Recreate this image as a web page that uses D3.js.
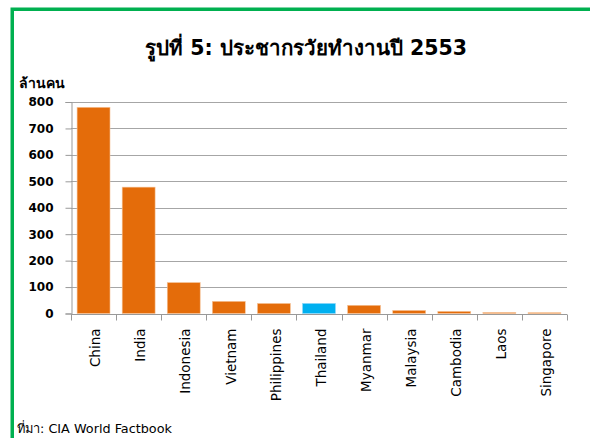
<!DOCTYPE html>
<html>
<head>
<meta charset="utf-8">
<script src="https://cdn.jsdelivr.net/npm/d3@7"></script>
<style>
  body { margin: 0; background: #fff; }
  svg { display: block; }
  .title { font: bold 20.5px Tahoma, "DejaVu Sans", sans-serif; }
  .unit { font: bold 14px Tahoma, "DejaVu Sans", sans-serif; }
  .yaxis text { font: bold 12px "DejaVu Sans", sans-serif; fill: #000; }
  .xaxis text { font: 13.5px "DejaVu Sans", sans-serif; fill: #000; }
  .source { font: 12.8px Tahoma, "DejaVu Sans", sans-serif; }
</style>
</head>
<body>
<svg class="chart"></svg>
<script>
// working-age population 2010 (2553), millions
var countries = ["China", "India", "Indonesia", "Vietnam", "Philippines", "Thailand",
                 "Myanmar", "Malaysia", "Cambodia", "Laos", "Singapore"];
var workforce = [780, 478, 117, 46, 38, 38, 31, 11.6, 8, 3.7, 3];
var yTicks = [0, 100, 200, 300, 400, 500, 600, 700, 800];

var W = 590, H = 438;
var margin = {top: 102, left: 71, right: 23, bottom: 124};

var svg = d3.select(".chart")
    .attr("width", W)
    .attr("height", H);

// green frame (left + top)
svg.append("path")
    .attr("d", "M12.25," + H + "V9.25H" + W)
    .attr("fill", "none")
    .attr("stroke", "#00B050")
    .attr("stroke-width", 3.5);

var x = d3.scaleBand()
    .domain(countries)
    .range([margin.left, W - margin.right]);

var y = d3.scaleLinear()
    .domain([0, 800])
    .range([313.5, margin.top]);

// gridlines
svg.append("g")
    .selectAll("line")
    .data(yTicks.slice(1))
  .enter().append("line")
    .attr("x1", margin.left)
    .attr("x2", W - margin.right)
    .attr("y1", function(d) { return Math.round(y(d)) + 0.5; })
    .attr("y2", function(d) { return Math.round(y(d)) + 0.5; })
    .attr("stroke", "#a6a6a6");

var yAxis = d3.axisLeft(y)
    .tickValues(yTicks)
    .tickSize(6)
    .tickPadding(12);

svg.append("g")
    .attr("class", "yaxis")
    .attr("transform", "translate(" + (margin.left + 0.5) + ",0)")
    .call(yAxis)
    .call(function(g) {
      g.select(".domain").attr("stroke", "#999");
      g.selectAll(".tick line").attr("stroke", "#999");
    });

// bars
var barW = x.bandwidth() * 0.73;
svg.append("g")
    .selectAll("rect")
    .data(countries)
  .enter().append("rect")
    .attr("x", function(d) { return x(d) + (x.bandwidth() - barW) / 2; })
    .attr("width", barW)
    .attr("y", function(d, i) { return y(workforce[i]); })
    .attr("height", function(d, i) { return y(0) - y(workforce[i]); })
    .attr("fill", function(d) { return d == "Thailand" ? "#00B0F0" : "#E46C0A"; })
    .attr("stroke", function(d) { return d == "Thailand" ? "#8fd8f8" : "#f6c49a"; })
    .attr("stroke-width", 0.6);

// x axis: ticks on band edges
var xAxisG = svg.append("g")
    .attr("class", "xaxis")
    .attr("transform", "translate(0," + (Math.round(y(0)) + 0.5) + ")");

xAxisG.append("line")
    .attr("x1", margin.left)
    .attr("x2", W - margin.right)
    .attr("stroke", "#999");

xAxisG.selectAll(".edge")
    .data(countries.concat(["end"]))
  .enter().append("line")
    .attr("class", "edge")
    .attr("x1", function(d, i) { return Math.round(margin.left + i * x.step()) + 0.5; })
    .attr("x2", function(d, i) { return Math.round(margin.left + i * x.step()) + 0.5; })
    .attr("y1", 0)
    .attr("y2", 6)
    .attr("stroke", "#999");

xAxisG.selectAll("text")
    .data(countries)
  .enter().append("text")
    .attr("transform", function(d) {
      return "translate(" + (x(d) + x.bandwidth() / 2 + 2) + ",14) rotate(-90)";
    })
    .attr("dy", "0.35em")
    .attr("text-anchor", "end")
    .text(function(d) { return d; });

svg.append("text")
    .attr("class", "title")
    .attr("x", 306)
    .attr("y", 55)
    .attr("text-anchor", "middle")
    .text("รูปที่ 5: ประชากรวัยทำงานปี 2553");

svg.append("text")
    .attr("class", "unit")
    .attr("x", 19)
    .attr("y", 88)
    .text("ล้านคน");

svg.append("text")
    .attr("class", "source")
    .attr("x", 17)
    .attr("y", 433)
    .text("ที่มา: CIA World Factbook");
</script>
</body>
</html>
